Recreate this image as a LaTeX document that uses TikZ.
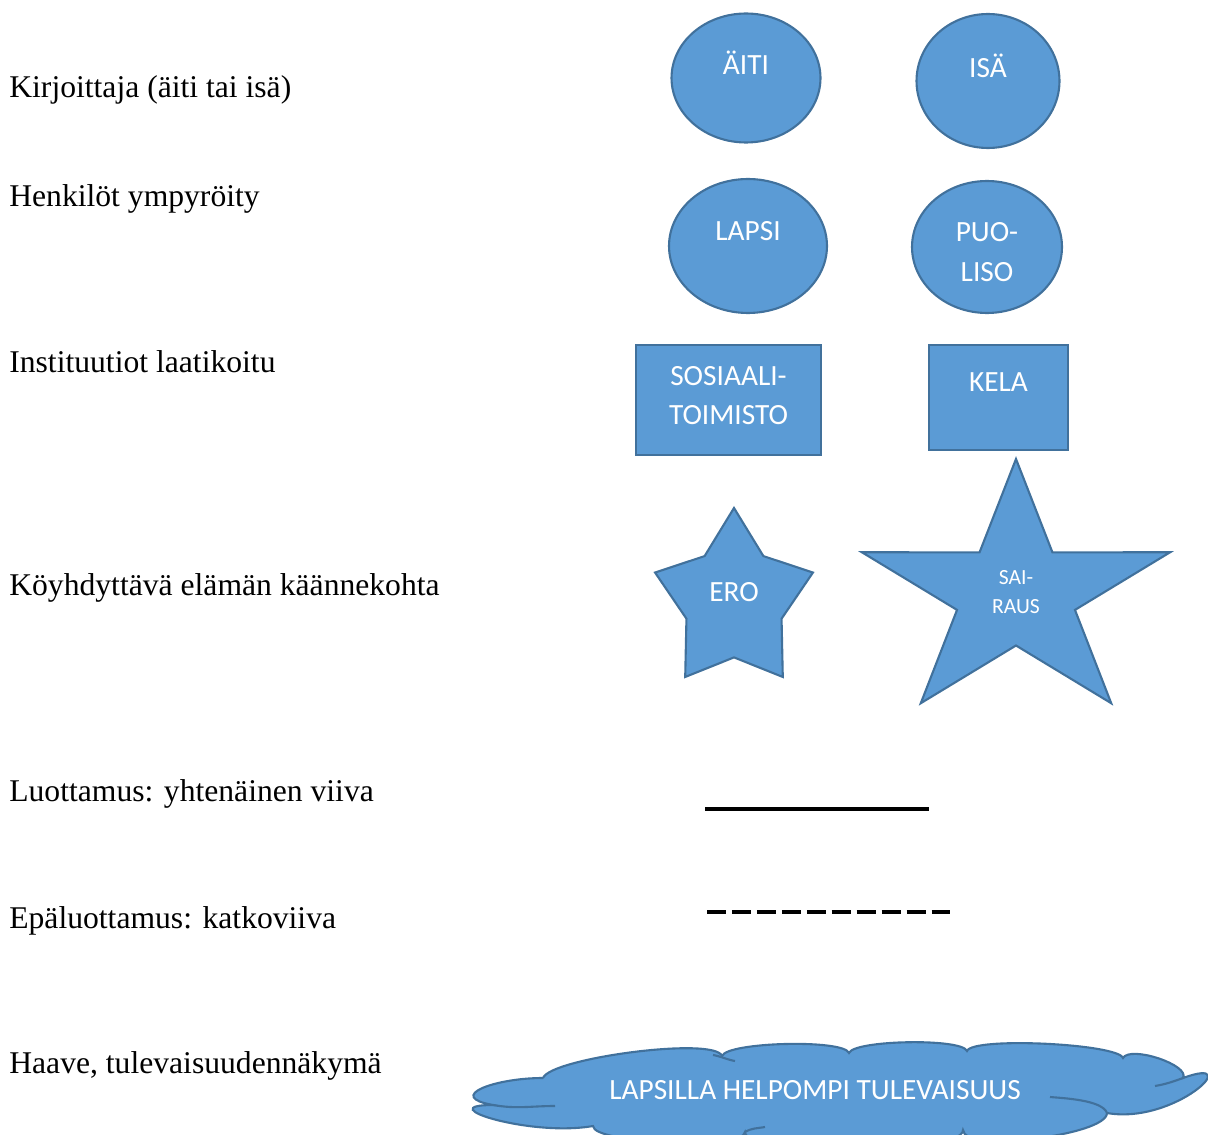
\documentclass[tikz,border=0pt]{standalone}
\usepackage{fontspec}
\setmainfont{Liberation Serif}
\newfontfamily\shapefont{Carlito}
\usetikzlibrary{shapes.geometric}

\definecolor{officefill}{HTML}{5B9BD5}
\definecolor{officeline}{HTML}{41719C}

\tikzset{
	legend/.style = {anchor=base west, inner sep=0pt, font=\fontsize{18}{20}\selectfont},
	shapetext/.style = {text=white, align=center, font=\shapefont\fontsize{16.7}{22.7}\selectfont},
	person/.style = {ellipse, draw=officeline, fill=officefill, line width=1.2pt, inner sep=0pt, shapetext},
	institution/.style = {rectangle, draw=officeline, fill=officefill, line width=1.2pt, inner sep=0pt, shapetext},
	event/.style = {draw=officeline, fill=officefill, line width=1.2pt, line join=miter},
	dream/.style = {draw=officeline, fill=officefill, line width=1.2pt},
	dreamline/.style = {draw=officeline, line width=1.2pt},
	trust/.style = {line width=2pt},
	distrust/.style = {line width=2.8pt, dash pattern=on 10.9pt off 3.3pt}
}

% star around a named coordinate: name, outer rx, outer ry, inner rx, inner ry
\newcommand{\eventstar}[5]{%
	\draw[event, shift={(#1)}] (-90:#2 and #3)
		\foreach \a in {-18,54,126,198} {-- (\a-36:#4 and #5) -- (\a:#2 and #3)}
		-- (234:#4 and #5) -- cycle;}

\begin{document}
\begin{tikzpicture}[x=0.02cm, y=-0.02cm]
	\useasboundingbox (0,0) rectangle (1208,1135);

	% legend texts
	\node[legend] (writer) at (9,98) {Kirjoittaja (äiti tai isä)};
	\node[legend] (persons) at (9,207) {Henkilöt ympyröity};
	\node[legend] (institutions) at (9,373) {Instituutiot laatikoitu};
	\node[legend] (turns) at (9,595) {Köyhdyttävä elämän käännekohta};
	\node[legend] (trusttext) at (9,801) {Luottamus: yhtenäinen viiva};
	\node[legend] (distrusttext) at (9,928) {Epäluottamus: katkoviiva};
	\node[legend] (dreamtext) at (9,1073) {Haave, tulevaisuudennäkymä};

	% persons
	\node[person, minimum width=2.98cm, minimum height=2.58cm] (aiti) at (746,78) {ÄITI\\[-5pt]~};
	\node[person, minimum width=2.86cm, minimum height=2.68cm] (isa) at (988,81) {ISÄ\\[-5pt]~};
	\node[person, minimum width=3.16cm, minimum height=2.68cm] (lapsi) at (748,246) {LAPSI\\[-6pt]~};
	\node[person, minimum width=3.0cm, minimum height=2.64cm] (puoliso) at (987,247) {\rule{0pt}{17pt}PUO-\\LISO};

	% institutions
	\node[institution, minimum width=3.7cm, minimum height=2.2cm] (sosiaali) at (728.5,400) {SOSIAALI-\\TOIMISTO\\[-17.6pt]~};
	\node[institution, minimum width=2.78cm, minimum height=2.1cm] (kela) at (998.5,397.5) {KELA\\[-5pt]~};

	% turning points
	\coordinate (erostar) at (734,601.4);
	\coordinate (sairausstar) at (1016,594);
	\eventstar{erostar}{83}{93.4}{50}{56}
	\eventstar{sairausstar}{162}{135}{62}{51.5}
	\node[shapetext] (ero) at (734,592) {ERO};
	\node[shapetext, font=\shapefont\fontsize{12.3}{17}\selectfont] (sairaus) at (1016,592) {SAI-\\RAUS};

	% trust and distrust
	\coordinate (trustA) at (705,809);
	\coordinate (trustB) at (929,809);
	\draw[trust] (trustA) -- (trustB);
	\coordinate (distrustA) at (707,912);
	\coordinate (distrustB) at (950,912);
	\draw[distrust] (distrustA) -- (distrustB);

	% dream cloud
	\coordinate (c1) at (543,1078);
	\coordinate (c2) at (722,1056);
	\coordinate (c3) at (849,1053);
	\coordinate (c4) at (967,1051);
	\coordinate (c5) at (1123,1058);
	\coordinate (c6) at (1183,1078);
	\coordinate (c7) at (1107,1113);
	\coordinate (c8) at (963,1130);
	\coordinate (c9) at (745,1132);
	\coordinate (c10) at (593,1126);
	\coordinate (c11) at (493,1105);
	\path[dream] (c1) to[out=70, in=110, looseness=0.3] (c2)
		to[out=70, in=110, looseness=0.3] (c3)
		to[out=70, in=110, looseness=0.3] (c4)
		to[out=70, in=110, looseness=0.25] (c5)
		to[out=60, in=60, looseness=0.6] (c6)
		to[out=20, in=-10, looseness=2.1] (c7)
		to[out=-90, in=-90, looseness=0.4] (c8)
		to[out=-90, in=-90, looseness=0.3] (c9)
		to[out=-90, in=-90, looseness=0.3] (c10)
		to[out=190, in=180, looseness=1.6] (c11)
		to[out=170, in=180, looseness=2.2] (c1);
	\path[dreamline] (c11) to[out=-10, in=180] (555,1106);
	\path[dreamline] (713,1055) to[out=-10, in=170] (735,1061);
	\path[dreamline] (c6) to[out=200, in=10] (1155,1086);
	\path[dreamline] (1050,1097) to[out=-5, in=110, looseness=0.6] (c7);
	\path[dreamline] (c9) to[out=30, in=190] (765,1127);
	\node[shapetext] (haave) at (815,1090) {LAPSILLA HELPOMPI TULEVAISUUS};
\end{tikzpicture}
\end{document}
